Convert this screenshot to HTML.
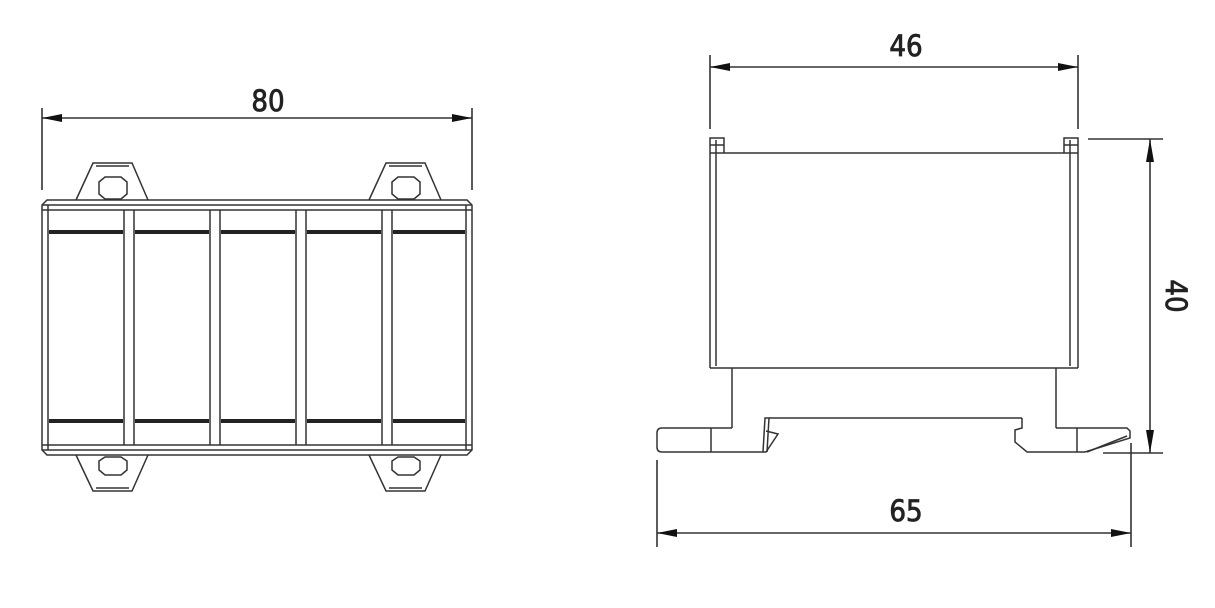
<!DOCTYPE html>
<html><head><meta charset="utf-8"><style>
html,body{margin:0;padding:0;background:#fff;}
svg{display:block}
text{font-family:"Liberation Sans Narrow","DejaVu Sans Condensed","Liberation Sans",sans-serif;font-size:29px;fill:#222;stroke:#222;stroke-width:0.8px;}
</style></head><body>
<svg width="1215" height="608" viewBox="0 0 1215 608" xmlns="http://www.w3.org/2000/svg">
<g stroke="#333" stroke-width="1.6" fill="none">
<line x1="42" y1="108" x2="42" y2="190"/>
<line x1="472" y1="108" x2="472" y2="190"/>
<line x1="42" y1="118" x2="472" y2="118"/>
</g>
<polygon points="42,118 62,114 62,122" fill="#111"/>
<polygon points="472,118 452,114 452,122" fill="#111"/>
<text x="268" y="111" text-anchor="middle">80</text>

<g stroke="#333" stroke-width="1.5" fill="none">
<path d="M76,200 L93,163 L132,163 L148,200"/>
<line x1="96" y1="166" x2="129" y2="166"/>
<path d="M99,182 L105,177 L121,177 L127,182 L127,194 L121,199 L105,199 L99,194 Z"/>
<path d="M369,200 L386,163 L425,163 L441,200"/>
<line x1="389" y1="166" x2="422" y2="166"/>
<path d="M392,182 L398,177 L414,177 L420,182 L420,194 L414,199 L398,199 L392,194 Z"/>
<path d="M76,455 L93,491 L132,491 L148,455"/>
<line x1="96" y1="488" x2="129" y2="488"/>
<path d="M99,461 L105,457 L121,457 L127,461 L127,470 L121,475 L105,475 L99,470 Z"/>
<path d="M369,455 L386,491 L425,491 L441,455"/>
<line x1="389" y1="488" x2="422" y2="488"/>
<path d="M392,461 L398,457 L414,457 L420,461 L420,470 L414,475 L398,475 L392,470 Z"/>
<path d="M42,205 L47,200 L467,200 L472,205 L472,450 L467,455 L47,455 L42,450 Z"/>
<line x1="42" y1="205" x2="472" y2="205"/>
<line x1="42" y1="210" x2="472" y2="210"/>
<line x1="42" y1="445" x2="472" y2="445"/>
<line x1="42" y1="450" x2="472" y2="450"/>
<line x1="48" y1="205" x2="48" y2="450"/>
<line x1="466" y1="205" x2="466" y2="450"/>
<line x1="124" y1="210" x2="124" y2="445"/><line x1="134" y1="210" x2="134" y2="445"/>
<line x1="210" y1="210" x2="210" y2="445"/><line x1="220" y1="210" x2="220" y2="445"/>
<line x1="296" y1="210" x2="296" y2="445"/><line x1="306" y1="210" x2="306" y2="445"/>
<line x1="382" y1="210" x2="382" y2="445"/><line x1="392" y1="210" x2="392" y2="445"/>
</g>
<g stroke="#222" stroke-width="4">
<line x1="49" y1="232" x2="123" y2="232"/><line x1="135" y1="232" x2="209" y2="232"/><line x1="221" y1="232" x2="295" y2="232"/><line x1="307" y1="232" x2="381" y2="232"/><line x1="393" y1="232" x2="465" y2="232"/>
<line x1="49" y1="421" x2="123" y2="421"/><line x1="135" y1="421" x2="209" y2="421"/><line x1="221" y1="421" x2="295" y2="421"/><line x1="307" y1="421" x2="381" y2="421"/><line x1="393" y1="421" x2="465" y2="421"/>
</g>

<g stroke="#333" stroke-width="1.6" fill="none">
<line x1="710" y1="55" x2="710" y2="129"/>
<line x1="1078" y1="55" x2="1078" y2="129"/>
<line x1="710" y1="67" x2="1078" y2="67"/>
<line x1="1088" y1="139" x2="1163" y2="139"/>
<line x1="1103" y1="453" x2="1163" y2="453"/>
<line x1="1150" y1="139" x2="1150" y2="453"/>
<line x1="657" y1="460" x2="657" y2="547"/>
<line x1="1131" y1="443" x2="1131" y2="547"/>
<line x1="657" y1="533" x2="1131" y2="533"/>
</g>
<polygon points="710,67 730,63 730,71" fill="#111"/>
<polygon points="1078,67 1058,63 1058,71" fill="#111"/>
<polygon points="1150,139 1146,162 1154,162" fill="#111"/>
<polygon points="1150,453 1146,430 1154,430" fill="#111"/>
<polygon points="657,533 677,529 677,537" fill="#111"/>
<polygon points="1131,533 1111,529 1111,537" fill="#111"/>
<text x="906" y="56" text-anchor="middle">46</text>
<text x="906" y="521" text-anchor="middle">65</text>
<text transform="translate(1166,296) rotate(90)" text-anchor="middle">40</text>

<g stroke="#333" stroke-width="1.5" fill="none">
<path d="M710,368 L710,138 L724,138 L724,153"/>
<path d="M1064,153 L1064,138 L1078,138 L1078,368"/>
<line x1="710" y1="368" x2="1078" y2="368"/>
<line x1="710" y1="153" x2="1078" y2="153"/>
<line x1="716" y1="140" x2="716" y2="366"/>
<line x1="1070" y1="140" x2="1070" y2="366"/>
<line x1="710" y1="145" x2="724" y2="145"/>
<line x1="1064" y1="145" x2="1078" y2="145"/>
<line x1="732" y1="368" x2="732" y2="428"/>
<line x1="1056" y1="368" x2="1056" y2="428"/>
<path d="M732,428 L662,428 Q657,428 657,433 L657,447 Q657,452 662,452 L766,452 L778,434 L766,431"/>
<line x1="711" y1="428" x2="711" y2="452"/>
<path d="M763,452 L765,418 L769,418 L767,452"/>
<line x1="769" y1="418" x2="1022" y2="418"/>
<path d="M1022,418 L1022,428 L1015,430 L1015,442 L1027,452 L1085,452 L1130,438 L1130,431 L1127,428 L1056,428"/>
<line x1="1077" y1="428" x2="1077" y2="452"/>
<line x1="1087" y1="452" x2="1127" y2="436"/>
</g>
</svg>
</body></html>
